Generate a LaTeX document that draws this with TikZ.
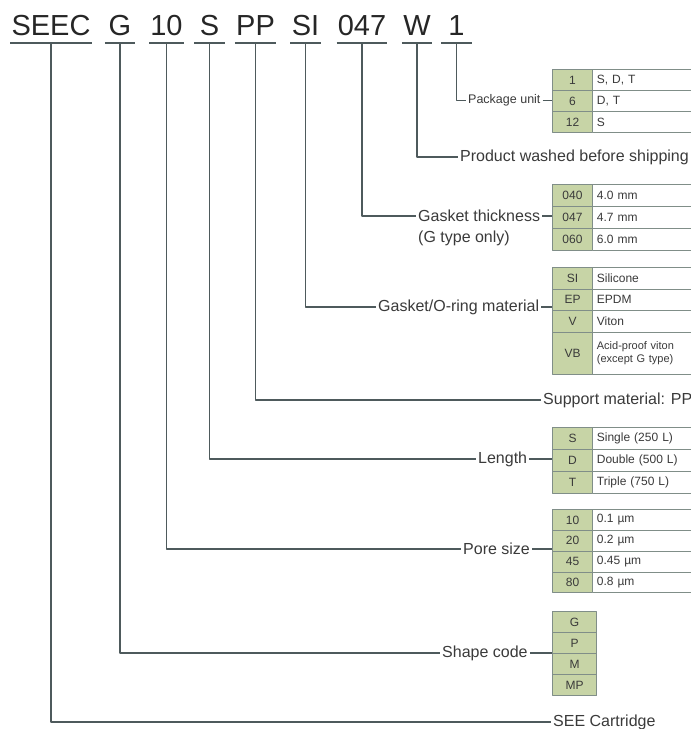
\documentclass[tikz,border=0pt]{standalone}
\usepackage{fontspec}
\setmainfont{Liberation Sans}
\usetikzlibrary{matrix}
\definecolor{keygreen}{RGB}{199,212,166}
\definecolor{rule}{RGB}{78,90,92}
\definecolor{cellline}{RGB}{128,142,136}
\definecolor{ink}{RGB}{58,58,58}
\tikzset{c/.style={font=\fontsize{29}{29}\selectfont,text=black!85,inner xsep=1pt,inner ysep=0pt,text depth=8pt,minimum width=30pt,anchor=base}}
\tikzset{u/.style={draw=rule,line width=2pt}}
\tikzset{ld/.style={draw=rule,line width=1.3pt}}
\tikzset{l/.style={font=\fontsize{16}{16}\selectfont,text=ink,inner sep=2pt,anchor=west}}
\tikzset{tb/.style={matrix of nodes,anchor=north west,inner sep=0pt,row sep=-0.8pt,column sep=-0.8pt,
  nodes={draw=cellline,line width=0.8pt,font=\fontsize{12}{12}\selectfont,text=ink,minimum height=#1,anchor=center},
  column 1/.style={nodes={fill=keygreen,minimum width=39.8pt}},
  column 2/.style={nodes={fill=white,text width=91pt,inner xsep=4.5pt,align=left}}},
  tb/.default=21pt}

\begin{document}
\begin{tikzpicture}[x=1pt,y=-1pt,line join=round]
  \useasboundingbox (0,0) rectangle (691,729);
  \node[c] (cSEEC) at (51,35) {SEEC};
  \node[c] (cG) at (120,35) {G};
  \node[c] (c10) at (166.5,35) {10};
  \node[c] (cS) at (209.5,35) {S};
  \node[c] (cPP) at (255.5,35) {PP};
  \node[c] (cSI) at (305.5,35) {SI};
  \node[c] (c047) at (362,35) {047};
  \node[c] (cW) at (417,35) {W};
  \node[c] (c1) at (456.5,35) {1};
  \foreach \n in {SEEC,G,10,S,PP,SI,047,W,1}
    \draw[u] (c\n.south west) -- (c\n.south east);

  \matrix[tb] (tPack) at (552,69) {
    1 & S, D, T \\
    6 & D, T \\
    12 & S \\
  };
  \matrix[tb=22pt] (tThick) at (552,184) {
    040 & 4.0 mm \\
    047 & 4.7 mm \\
    060 & 6.0 mm \\
  };
  \matrix[tb=21.5pt] (tMat) at (552,267) {
    SI & Silicone \\
    EP & EPDM \\
    V & Viton \\
    |[minimum height=42pt]| VB & |[minimum height=42pt,font=\fontsize{11}{12.5}\selectfont]| {Acid-proof viton\\(except G type)} \\
  };
  \matrix[tb=22pt] (tLen) at (552,427) {
    S & Single (250 L) \\
    D & Double (500 L) \\
    T & Triple (750 L) \\
  };
  \matrix[tb=20.8pt] (tPore) at (552,509) {
    10 & 0.1 µm \\
    20 & 0.2 µm \\
    45 & 0.45 µm \\
    80 & 0.8 µm \\
  };
  \matrix[tb,column 1/.style={nodes={fill=keygreen,minimum width=44pt}}] (tShape) at (552,611) {
    G \\
    P \\
    M \\
    MP \\
  };

  \node[l,font=\fontsize{12.5}{12.5}\selectfont] (lPack) at (466,100.5) {Package unit};
  \node[l] (lWash) at (458,157) {Product washed before shipping};
  \node[l] (lThick) at (416,216) {Gasket thickness};
  \node[l] (lThickNote) at (416,238) {(G type only)};
  \node[l] (lMat) at (376,307) {Gasket/O-ring material};
  \node[l] (lSupp) at (541,400) {Support material: PP};
  \node[l] (lLen) at (476,459) {Length};
  \node[l] (lPore) at (461,549) {Pore size};
  \node[l] (lShape) at (440,653) {Shape code};
  \node[l] (lSEE) at (551,722) {SEE Cartridge};

  \draw[ld] (c1.south) |- (lPack.west);
  \draw[ld] (lPack.east) -- (lPack.east -| tPack.west);
  \draw[ld] (cW.south) |- (lWash.west);
  \draw[ld] (c047.south) |- (lThick.west);
  \draw[ld] (lThick.east) -- (lThick.east -| tThick.west);
  \draw[ld] (cSI.south) |- (lMat.west);
  \draw[ld] (lMat.east) -- (lMat.east -| tMat.west);
  \draw[ld] (cPP.south) |- (lSupp.west);
  \draw[ld] (cS.south) |- (lLen.west);
  \draw[ld] (lLen.east) -- (lLen.east -| tLen.west);
  \draw[ld] (c10.south) |- (lPore.west);
  \draw[ld] (lPore.east) -- (lPore.east -| tPore.west);
  \draw[ld] (cG.south) |- (lShape.west);
  \draw[ld] (lShape.east) -- (lShape.east -| tShape.west);
  \draw[ld] (cSEEC.south) |- (lSEE.west);
\end{tikzpicture}
\end{document}
